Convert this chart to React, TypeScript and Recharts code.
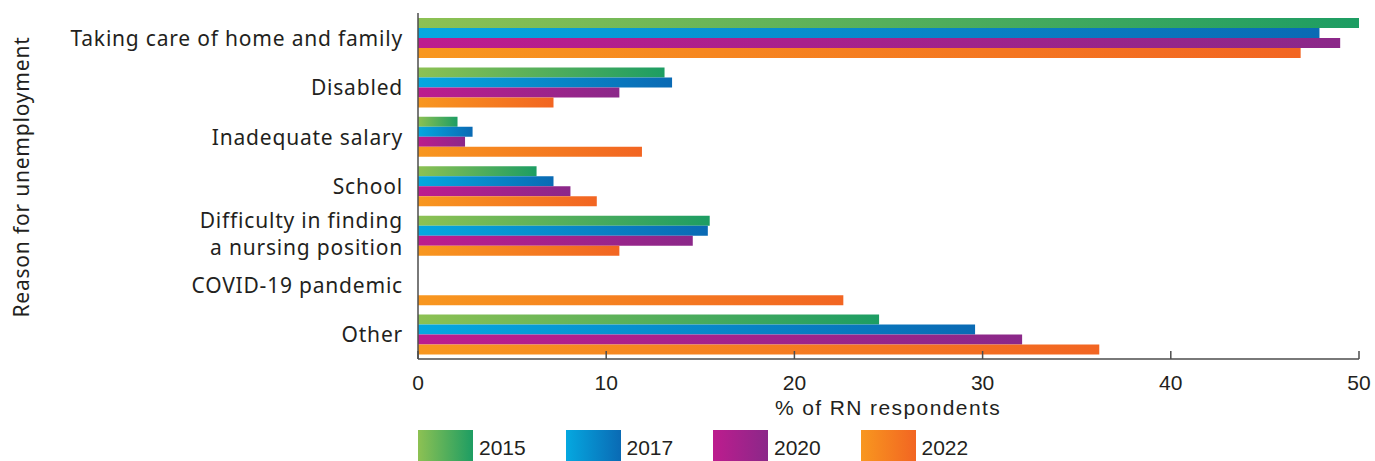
import React from "react";
import { BarChart, Bar, XAxis, YAxis, Legend } from "recharts";

const categories = [
  "Taking care of home and family",
  "Disabled",
  "Inadequate salary",
  "School",
  "Difficulty in finding\na nursing position",
  "COVID-19 pandemic",
  "Other",
];

const years = ["2015", "2017", "2020", "2022"];

const values2015 = [50.0, 13.1, 2.1, 6.3, 15.5, null, 24.5];
const values2017 = [47.9, 13.5, 2.9, 7.2, 15.4, null, 29.6];
const values2020 = [49.0, 10.7, 2.5, 8.1, 14.6, null, 32.1];
const values2022 = [46.9, 7.2, 11.9, 9.5, 10.7, 22.6, 36.2];

const xTicks = [0, 10, 20, 30, 40, 50];

// start / end colour of each year's gradient
const gradients: Record<string, [string, string]> = {
  "2015": ["#8DC153", "#1D9D63"],
  "2017": ["#05A8E0", "#0A6AB4"],
  "2020": ["#BD1C8E", "#8B2889"],
  "2022": ["#F8971F", "#F26522"],
};

const data = categories.map((name, i) => ({
  name,
  "2015": values2015[i],
  "2017": values2017[i],
  "2020": values2020[i],
  "2022": values2022[i],
}));

const TEXT = "#231f20";
const AXIS = "#4d4d4d";
const labelFont = "'Noto Sans', 'Open Sans', sans-serif";
const numFont = "'Liberation Sans', Arial, sans-serif";

const CategoryTick = (props: any) => {
  const { x, y, payload } = props;
  const lines: string[] = String(payload.value).split("\n");
  const lineH = 27;
  const start =
    y - (lines.length > 1 ? 2 : 0) - ((lines.length - 1) * lineH) / 2;
  return (
    <text
      x={x}
      y={start}
      textAnchor="end"
      dominantBaseline="central"
      fontFamily={labelFont}
      fontSize={21}
      letterSpacing={0.8}
      fill={TEXT}
    >
      {lines.map((l, i) => (
        <tspan key={i} x={x} y={start + i * lineH} dominantBaseline="central">
          {l}
        </tspan>
      ))}
    </text>
  );
};

const ValueTick = (props: any) => {
  const { x, y, payload } = props;
  return (
    <g>
      <line x1={x} x2={x} y1={y} y2={y - 8} stroke={AXIS} strokeWidth={1.5} />
      <text
        x={x}
        y={y + 31}
        textAnchor="middle"
        fontFamily={numFont}
        fontSize={21}
        fill={TEXT}
      >
        {payload.value}
      </text>
    </g>
  );
};

const LegendContent = (props: any) => {
  const { payload } = props;
  return (
    <div style={{ display: "flex", height: 31 }}>
      {(payload || []).map((item: any) => {
        const [c1, c2] = gradients[item.value];
        return (
          <div
            key={item.value}
            style={{ display: "flex", alignItems: "center", width: 147.5 }}
          >
            <div
              style={{
                width: 55,
                height: 31,
                background: `linear-gradient(to right, ${c1}, ${c2})`,
              }}
            />
            <span
              style={{
                marginLeft: 6,
                paddingTop: 5,
                fontFamily: numFont,
                fontSize: 21,
                color: TEXT,
              }}
            >
              {item.value}
            </span>
          </div>
        );
      })}
    </div>
  );
};

export default function App() {
  return (
    <div style={{ position: "absolute", left: 0, top: 0, background: "#fff" }}>
      <BarChart
        width={1375}
        height={461}
        data={data}
        layout="vertical"
        margin={{ top: 13, right: 16, bottom: 31, left: 0 }}
        barGap={0}
        barSize={10}
      >
        <defs>
          {years.map((y) => (
            <linearGradient key={y} id={`grad${y}`} x1="0" y1="0" x2="1" y2="0">
              <stop offset="0%" stopColor={gradients[y][0]} />
              <stop offset="100%" stopColor={gradients[y][1]} />
            </linearGradient>
          ))}
        </defs>
        <XAxis
          type="number"
          domain={[0, 50]}
          ticks={xTicks}
          height={40}
          tickLine={false}
          tickSize={0}
          tickMargin={0}
          axisLine={{ stroke: AXIS, strokeWidth: 1.5 }}
          tick={<ValueTick />}
          interval={0}
          label={{
            value: "% of RN respondents",
            content: () => (
              <text
                x={888}
                y={415}
                textAnchor="middle"
                fontFamily={numFont}
                fontSize={21}
                letterSpacing={1.4}
                fill={TEXT}
              >
                % of RN respondents
              </text>
            ),
          }}
        />
        <YAxis
          type="category"
          dataKey="name"
          width={418}
          tickLine={false}
          tickSize={0}
          tickMargin={15}
          axisLine={{ stroke: AXIS, strokeWidth: 1.5 }}
          tick={<CategoryTick />}
          interval={0}
          label={{
            value: "Reason for unemployment",
            content: () => (
              <text
                x={21}
                y={177}
                transform="rotate(-90 21 177)"
                textAnchor="middle"
                dominantBaseline="central"
                fontFamily={labelFont}
                fontSize={21}
                letterSpacing={0.8}
                fill={TEXT}
              >
                Reason for unemployment
              </text>
            ),
          }}
        />
        <Legend
          verticalAlign="bottom"
          content={<LegendContent />}
          wrapperStyle={{ left: 418, top: 430, width: 700, height: 31 }}
        />
        {years.map((y) => (
          <Bar
            key={y}
            dataKey={y}
            name={y}
            fill={`url(#grad${y})`}
            isAnimationActive={false}
          />
        ))}
      </BarChart>
    </div>
  );
}
